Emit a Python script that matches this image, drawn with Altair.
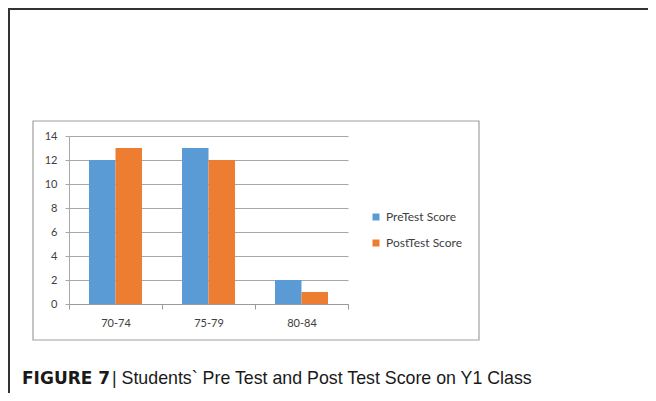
import altair as alt
import pandas as pd

categories = ["70-74", "75-79", "80-84"]
series_names = ["PreTest Score", "PostTest Score"]
pre_scores = [12, 13, 2]
post_scores = [13, 12, 1]
y_ticks = [0, 2, 4, 6, 8, 10, 12, 14]
colors = ["#5b9bd5", "#ed7d31"]
caption_bold = "FIGURE 7"
caption_rest = "| Students` Pre Test and Post Test Score on Y1 Class"

rows = []
for c, a, b in zip(categories, pre_scores, post_scores):
    rows.append({"range": c, "series": series_names[0], "value": a})
    rows.append({"range": c, "series": series_names[1], "value": b})
df = pd.DataFrame(rows)
one = pd.DataFrame({"k": [0]})

axis_font = "Lato"

bars = alt.Chart(df).mark_bar().encode(
    x=alt.X("range:N", sort=categories,
            scale=alt.Scale(paddingInner=0, paddingOuter=0),
            axis=alt.Axis(title=None, labelAngle=0, tickBand="extent", ticks=True,
                          tickSize=5, tickColor="#9a9a9a", domainColor="#9a9a9a",
                          labelFont=axis_font, labelFontSize=11, labelColor="#404040",
                          labelPadding=8, grid=False)),
    xOffset=alt.XOffset("series:N", sort=series_names,
                        scale=alt.Scale(paddingInner=0, paddingOuter=0.755)),
    y=alt.Y("value:Q", scale=alt.Scale(domain=[0, 14], nice=False),
            axis=alt.Axis(title=None, values=y_ticks, ticks=True, tickSize=4,
                          tickColor="#a8a8a8", grid=True,
                          gridColor="#a8a8a8", domainColor="#a8a8a8",
                          labelFont=axis_font, labelFontSize=11, labelColor="#404040",
                          labelPadding=8)),
    color=alt.Color("series:N", sort=series_names,
                    scale=alt.Scale(domain=series_names, range=colors),
                    legend=alt.Legend(title=None, orient="none", legendX=301, legendY=75,
                                      symbolType="square", symbolSize=49,
                                      symbolStrokeWidth=0, labelFont=axis_font,
                                      labelFontSize=12, labelColor="#404040",
                                      rowPadding=14, labelOffset=4, padding=0)),
)

inner_box = alt.Chart(one).mark_rect(filled=False, stroke="#a0a0a0", strokeWidth=1.2).encode(
    x=alt.value(-36), x2=alt.value(410), y=alt.value(-15), y2=alt.value(204))

frame_top = alt.Chart(one).mark_rule(color="#333333", strokeWidth=2).encode(
    x=alt.value(-61), x2=alt.value(579), y=alt.value(-127))
frame_left = alt.Chart(one).mark_rule(color="#333333", strokeWidth=2).encode(
    x=alt.value(-60), y=alt.value(-128), y2=alt.value(257))

cap1 = alt.Chart(one).mark_text(align="left", baseline="alphabetic", font="DejaVu Sans",
                                fontSize=17, fontWeight="bold", color="#1a1a1a").encode(
    x=alt.value(-47), y=alt.value(248), text=alt.value(caption_bold))
cap2 = alt.Chart(one).mark_text(align="left", baseline="alphabetic", font="Liberation Sans",
                                fontSize=17.8, color="#1a1a1a").encode(
    x=alt.value(43), y=alt.value(248), text=alt.value(caption_rest))

chart = alt.layer(inner_box, frame_top, frame_left, bars, cap1, cap2).properties(
    width=279, height=168,
    padding={"left": 61, "top": 128, "right": 300, "bottom": 89},
    autosize=alt.AutoSizeParams(type="none"),
).configure_view(stroke=None)

chart.save("out.html", embed_options={"renderer": "svg", "actions": False})
